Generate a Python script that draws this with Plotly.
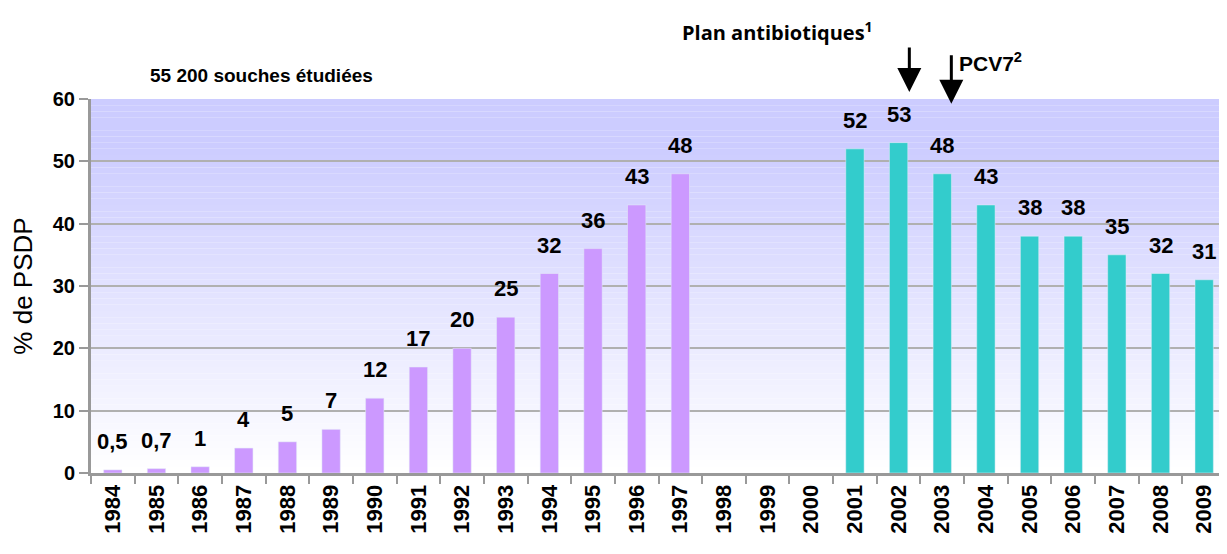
import plotly.graph_objects as go

years = [str(y) for y in range(1984, 2010)]
years_before = [str(y) for y in range(1984, 1998)]
pct_before = [0.5, 0.7, 1, 4, 5, 7, 12, 17, 20, 25, 32, 36, 43, 48]
labels_before = ["0,5", "0,7", "1", "4", "5", "7", "12", "17", "20", "25", "32", "36", "43", "48"]
years_after = [str(y) for y in range(2001, 2010)]
pct_after = [52, 53, 48, 43, 38, 38, 35, 32, 31]
labels_after = ["52", "53", "48", "43", "38", "38", "35", "32", "31"]

FONT = "Liberation Sans, Arial, sans-serif"

fig = go.Figure()
fig.add_trace(go.Bar(x=years_before, y=pct_before, marker_color="#CC99FF", width=0.42))
fig.add_trace(go.Bar(x=years_after, y=pct_after, marker_color="#33CCCC", width=0.42))

# value labels above the bars (category axis -> use serial index)
for xs, ys, ts in [(years_before, pct_before, labels_before), (years_after, pct_after, labels_after)]:
    for x, y, t in zip(xs, ys, ts):
        fig.add_annotation(x=years.index(x), y=y, text="<b>%s</b>" % t, showarrow=False,
                           yanchor="bottom", yshift=14,
                           font=dict(family=FONT, size=22, color="black"))

# vertical gradient background (lavender -> white)
n = 60
top = (204, 204, 255)
for i in range(n):
    f = (i + 0.5) / n  # 0 bottom, 1 top
    k = min(1.0, f * 1.15)
    c = tuple(int(round(255 + (t - 255) * k)) for t in top)
    fig.add_shape(type="rect", xref="x domain", yref="y", x0=0, x1=1,
                  y0=60 * i / n, y1=60 * (i + 1) / n, layer="below",
                  line_width=0, fillcolor="rgb(%d,%d,%d)" % c)

fig.add_annotation(xref="paper", yref="paper", x=0.05, y=1.062, xanchor="left", yanchor="middle",
                   text="<b>55 200 souches étudiées</b>", showarrow=False,
                   font=dict(family=FONT, size=19, color="black"))
fig.add_annotation(xref="paper", yref="paper", x=0.519, y=1.18, xanchor="left", yanchor="middle",
                   text="<b>Plan antibiotiques<sup>1</sup></b>", showarrow=False,
                   font=dict(family="Open Sans, sans-serif", size=20, color="black"))
fig.add_annotation(xref="paper", yref="paper", x=0.763, y=1.1, xanchor="left", yanchor="middle",
                   text="<b>PCV7<sup>2</sup></b>", showarrow=False,
                   font=dict(family=FONT, size=21, color="black"))
# arrows
fig.add_annotation(xref="paper", yref="paper", x=0.721, y=1.019, ax=0, ay=-46, text="",
                   showarrow=True, arrowhead=2, arrowsize=1.6, arrowwidth=3, arrowcolor="black")
fig.add_annotation(xref="paper", yref="paper", x=0.758, y=0.987, ax=0, ay=-50, text="",
                   showarrow=True, arrowhead=2, arrowsize=1.6, arrowwidth=3, arrowcolor="black")

# page body has an 8px margin, so the figure is 8px smaller than the window
fig.update_layout(
    width=1219, height=546,
    margin=dict(l=83, r=1, t=91, b=81),
    paper_bgcolor="white", plot_bgcolor="white",
    showlegend=False, bargap=0.58,
    font=dict(family=FONT, color="black"),
)
fig.update_xaxes(type="category", categoryorder="array", categoryarray=years,
                 range=[-0.5, 25.5], tickson="boundaries", ticks="outside", ticklen=8,
                 tickwidth=2, tickcolor="#999999", showline=True, linecolor="#999999",
                 linewidth=3, tickangle=-90, showgrid=False, automargin=False,
                 tickfont=dict(family=FONT, size=22, color="black", weight="bold"))
fig.update_yaxes(range=[0, 60], dtick=10, ticks="outside", ticklen=9, tickwidth=2,
                 tickcolor="#999999", showline=True, linecolor="#999999", linewidth=3,
                 showgrid=True, gridcolor="#B0B0B0", gridwidth=2, zeroline=False, automargin=False,
                 tickfont=dict(family=FONT, size=20, color="black", weight="bold"),
                 title=dict(text="% de PSDP", font=dict(family=FONT, size=26, color="black"), standoff=19))

fig.write_html("out.html")
